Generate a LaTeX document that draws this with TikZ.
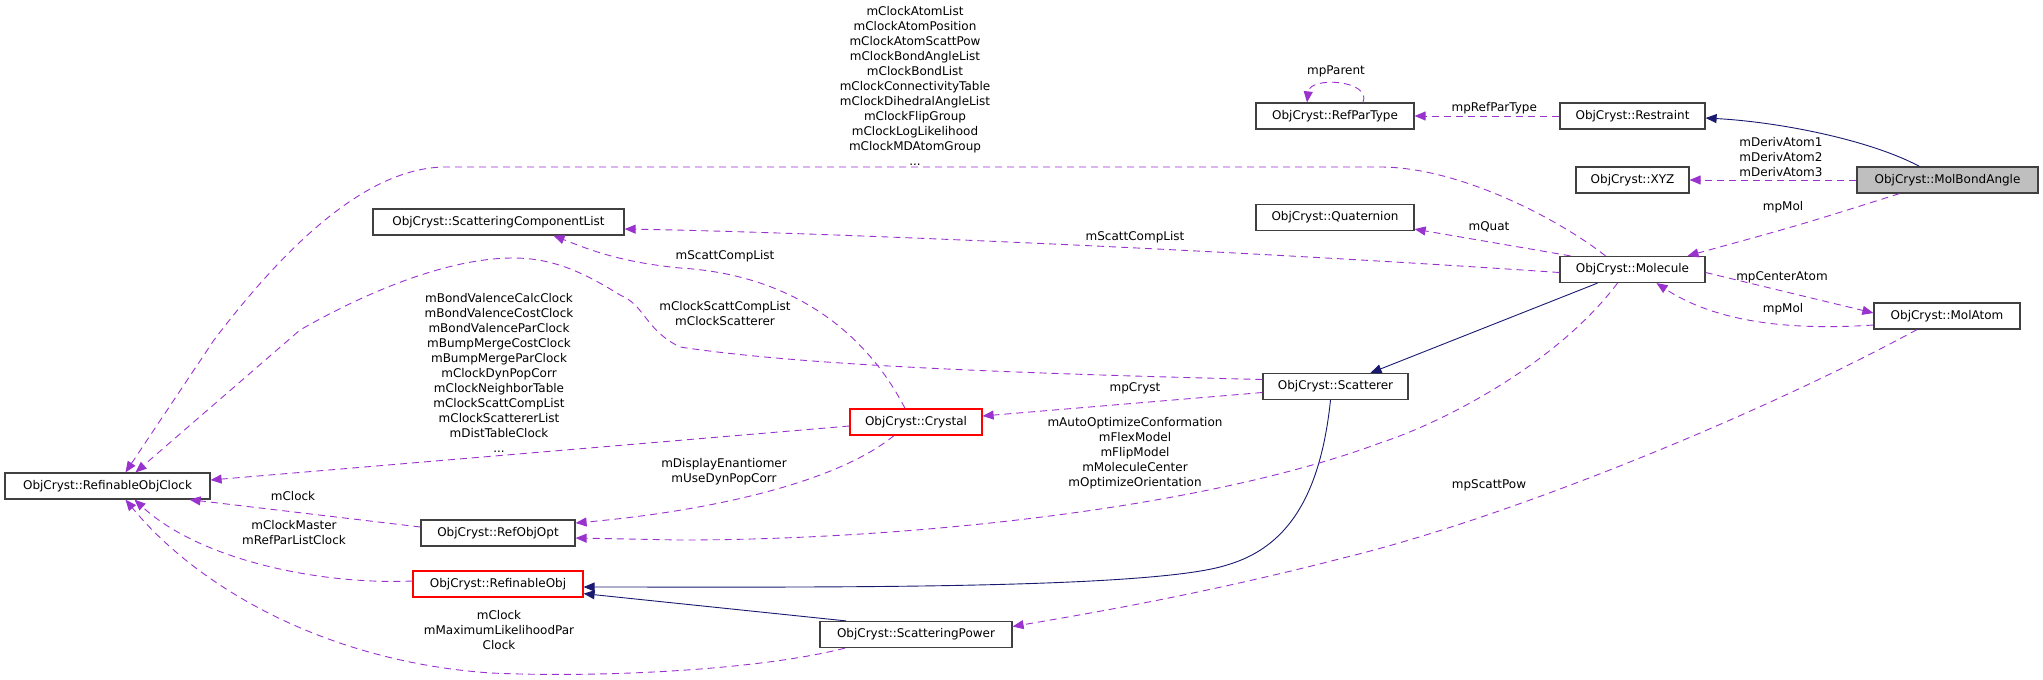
\documentclass[tikz,border=0pt]{standalone}
\usepackage{fontspec}
\setmainfont{DejaVu Sans}
\usetikzlibrary{arrows.meta}
\definecolor{pur}{HTML}{9A32CD}
\definecolor{nav}{HTML}{191970}
\begin{document}
\begin{tikzpicture}[x=1pt,y=-1pt,
  font=\fontsize{12}{15}\selectfont,
  box/.style={draw=black!75,line width=1.2pt,minimum height=26pt,inner sep=0pt,text width=#1-8pt,align=center,minimum width=#1},
  rbox/.style={box=#1,draw=red},
  lab/.style={align=center,inner sep=0pt},
  dep/.style={draw=pur,dashed,dash pattern=on 7pt off 5pt,line width=0.9pt,-{Triangle[length=11pt,width=9pt]}},
  inh/.style={draw=nav,line width=0.9pt,-{Triangle[length=11pt,width=9pt]}}]
\useasboundingbox (0,0) rectangle (2043,680);
\node[box=205pt] (clock) at (107.5,486) {ObjCryst::RefinableObjClock};
\node[box=251pt] (scl) at (498.5,222) {ObjCryst::ScatteringComponentList};
\node[box=158pt] (rpt) at (1335,116) {ObjCryst::RefParType};
\node[box=145pt] (restr) at (1632.5,116) {ObjCryst::Restraint};
\node[box=113pt] (xyz) at (1632.5,180) {ObjCryst::XYZ};
\node[box=181pt,fill=black!25] (mba) at (1947.5,180) {ObjCryst::MolBondAngle};
\node[box=158pt] (quat) at (1335,217.5) {ObjCryst::Quaternion};
\node[box=145pt] (mol) at (1632.5,269.5) {ObjCryst::Molecule};
\node[box=146pt] (molatom) at (1947,316) {ObjCryst::MolAtom};
\node[box=145pt] (scat) at (1335.5,386.5) {ObjCryst::Scatterer};
\node[rbox=132pt] (cryst) at (916,422) {ObjCryst::Crystal};
\node[box=154pt] (roo) at (498,533) {ObjCryst::RefObjOpt};
\node[rbox=170pt] (refobj) at (498,584) {ObjCryst::RefinableObj};
\node[box=192pt] (sp) at (916,634.5) {ObjCryst::ScatteringPower};
% inheritance
\draw[inh] ([xshift=-28pt]mba.north) .. controls (1870,140) and (1780,122) .. ([yshift=-2pt]restr.east);
\draw[inh] ([xshift=-35pt]mol.south) -- ([xshift=35pt]scat.north);
\draw[inh] ([xshift=-5pt]scat.south) .. controls (1320,500) and (1285,548) .. (1227,565) .. controls (1150,590) and (800,587) .. ([yshift=-3pt]refobj.east);
\draw[inh] ([xshift=-70pt]sp.north) -- ([yshift=4pt]refobj.south east);
% usage
\draw[dep] (restr.west) -- node[lab,above=2pt,pos=0.45]{mpRefParType} (rpt.east);
\draw[dep] ([xshift=28pt]rpt.north) .. controls (1372,80) and (1310,76) .. ([xshift=-28pt]rpt.north);
\node[lab] (lpar) at (1336,71) {mpParent};
\draw[dep] (mba.west) -- (xyz.east);
\node[lab] (lderiv) at (1781,157) {mDerivAtom1\\mDerivAtom2\\mDerivAtom3};
\draw[dep] ([xshift=-48pt]mba.south) .. controls (1800,225) .. ([xshift=55pt]mol.north);
\node[lab] (lmpmol) at (1783,207) {mpMol};
\draw[dep] ([xshift=-62pt]mol.north) -- ([yshift=2pt]quat.south east);
\node[lab] (lquat) at (1489,227) {mQuat};
\draw[dep] ([yshift=-3pt]mol.west) .. controls (1200,248) and (800,232) .. ([yshift=-7pt]scl.east);
\node[lab] (lscl) at (1135,237) {mScattCompList};
\draw[dep] ([xshift=-27pt]mol.north) .. controls (1560,220) and (1460,167) .. (1380,167) -- (446,167) .. controls (370,167) and (290,240) .. (214,340) -- ([xshift=18pt]clock.north);
\node[lab] (lmolclk) at (915,86) {mClockAtomList\\mClockAtomPosition\\mClockAtomScattPow\\mClockBondAngleList\\mClockBondList\\mClockConnectivityTable\\mClockDihedralAngleList\\mClockFlipGroup\\mClockLogLikelihood\\mClockMDAtomGroup\\...};
\draw[dep] ([yshift=-3pt]mol.east) -- ([yshift=3pt]molatom.west);
\node[lab] (lcenter) at (1782,277) {mpCenterAtom};
\draw[dep] ([yshift=-9pt]molatom.west) .. controls (1800,330) and (1720,325) .. ([xshift=24pt]mol.south);
\node[lab] (lmpmol2) at (1783,309) {mpMol};
\draw[dep] ([xshift=-15pt]mol.south) .. controls (1560,360) and (1450,420) .. (1380,443) .. controls (1200,510) and (900,540) .. (680,540) -- ([yshift=-5pt]roo.east);
\node[lab] (lauto) at (1135,453) {mAutoOptimizeConformation\\mFlexModel\\mFlipModel\\mMoleculeCenter\\mOptimizeOrientation};
\draw[dep] ([xshift=-30pt]molatom.south) .. controls (1750,420) and (1500,520) .. (1343,558) .. controls (1200,595) and (1080,615) .. ([yshift=8pt]sp.east);
\node[lab] (lsp) at (1489,485) {mpScattPow};
\draw[dep] ([yshift=-6pt]scat.west) -- ([yshift=6pt]cryst.east);
\node[lab] (lcryst) at (1135,388) {mpCryst};
\draw[dep] ([yshift=7pt]scat.west) .. controls (1000,373) and (800,365) .. (680,347) .. controls (645,330) and (645,305) .. (620,295) .. controls (580,270) and (550,258) .. (513,258) .. controls (450,258) and (370,290) .. (300,330) -- ([xshift=28pt]clock.north);
\node[lab] (lsclk) at (725,314) {mClockScattCompList\\mClockScatterer};
\draw[dep] ([xshift=-11pt]cryst.north) .. controls (870,340) and (800,275) .. (680,268) .. controls (620,262) and (590,250) .. ([xshift=55pt]scl.south);
\node[lab] (lscl2) at (725,256) {mScattCompList};
\draw[dep] ([yshift=-4pt]cryst.west) -- ([yshift=6pt]clock.east);
\node[lab] (lcrclk) at (499,373) {mBondValenceCalcClock\\mBondValenceCostClock\\mBondValenceParClock\\mBumpMergeCostClock\\mBumpMergeParClock\\mClockDynPopCorr\\mClockNeighborTable\\mClockScattCompList\\mClockScattererList\\mDistTableClock\\...};
\draw[dep] ([xshift=-22pt]cryst.south) .. controls (840,480) and (720,510) .. ([yshift=10pt]roo.east);
\node[lab] (lenan) at (724,472) {mDisplayEnantiomer\\mUseDynPopCorr};
\draw[dep] ([yshift=6pt]roo.west) -- ([xshift=82pt]clock.south);
\node[lab] (lclk) at (293,496) {mClock};
\draw[dep] ([yshift=3pt]refobj.west) .. controls (320,585) and (200,560) .. ([xshift=27pt]clock.south);
\node[lab] (lmaster) at (294,533) {mClockMaster\\mRefParListClock};
\draw[dep] ([xshift=-71pt]sp.south) .. controls (760,670) and (600,678) .. (491,673) .. controls (330,662) and (200,590) .. ([xshift=18pt]clock.south);
\node[lab] (lml) at (499,630) {mClock\\mMaximumLikelihoodPar\\Clock};
\end{tikzpicture}
\end{document}
